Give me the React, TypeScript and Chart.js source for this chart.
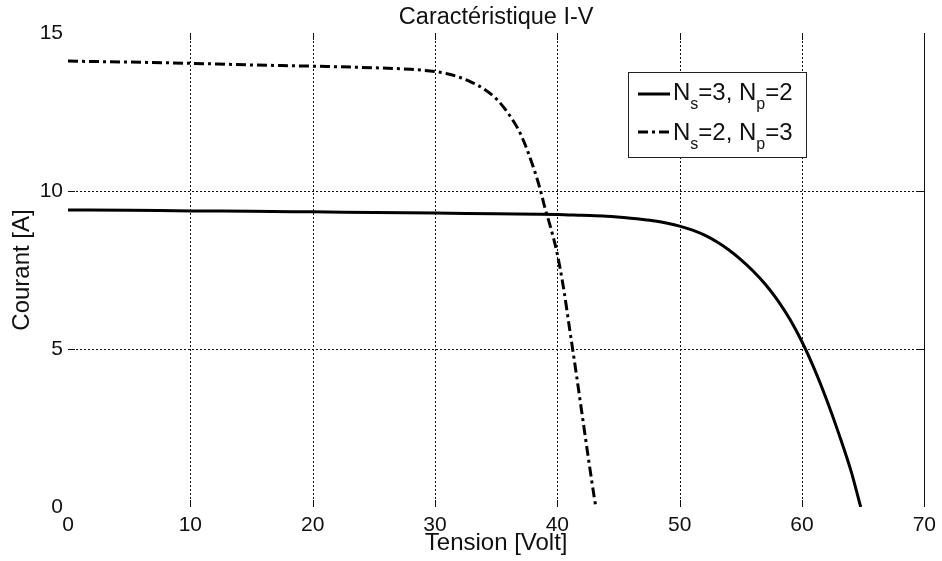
import React, { useEffect, useRef } from "react";
import { Chart, registerables } from "chart.js";

Chart.register(...registerables);

// ---- data ----
const voltsA = [0, 5, 10, 15, 20, 25, 30, 35, 40, 42, 44, 46, 47, 48, 49, 50, 51, 52, 53, 54, 55, 56, 57, 58, 59, 60, 61, 62, 63, 64, 64.8];
const currentA = [9.4, 9.39, 9.37, 9.36, 9.34, 9.32, 9.3, 9.28, 9.26, 9.23, 9.2, 9.14, 9.1, 9.05, 8.98, 8.89, 8.77, 8.61, 8.4, 8.14, 7.83, 7.47, 7.05, 6.55, 5.95, 5.23, 4.38, 3.41, 2.33, 1.15, 0];

const voltsB = [0, 5, 10, 15, 20, 25, 28, 30, 31, 32, 33, 34, 35, 36, 37, 38, 38.6, 39, 39.5, 40, 40.5, 41, 41.5, 42, 42.5, 43, 43.15];
const currentB = [14.11, 14.08, 14.04, 13.99, 13.95, 13.9, 13.85, 13.78, 13.71, 13.6, 13.44, 13.23, 12.92, 12.45, 11.8, 10.8, 10.05, 9.45, 8.78, 8.0, 6.95, 5.65, 4.35, 3.0, 1.65, 0.35, 0];

const legendLabels = ["N_s=3, N_p=2", "N_s=2, N_p=3"];
const titleText = "Caractéristique I-V";
const xTitle = "Tension [Volt]";
const yTitle = "Courant [A]";
const xMin = 0, xMax = 70, xStep = 10;
const yMin = 0, yMax = 15, yStep = 5;

const FONT = '"Liberation Sans", Arial, Helvetica, sans-serif';
const DASH_DOT = [10, 4, 3, 4];
const GRID_DOT = [2, 2];

function drawRich(ctx: CanvasRenderingContext2D, text: string, x: number, y: number, size: number, subSize: number) {
  let cx = x;
  let i = 0;
  while (i < text.length) {
    if (text[i] === "_" && i + 1 < text.length) {
      ctx.font = `${subSize}px ${FONT}`;
      const c = text[i + 1];
      ctx.fillText(c, cx, y + 9);
      cx += ctx.measureText(c).width;
      i += 2;
    } else {
      let j = i;
      while (j < text.length && text[j] !== "_") j++;
      const seg = text.slice(i, j);
      ctx.font = `${size}px ${FONT}`;
      ctx.fillText(seg, cx, y);
      cx += ctx.measureText(seg).width;
      i = j;
    }
  }
}

const framePlugin = {
  id: "matlabFrame",
  beforeDatasetsDraw(chart: any) {
    // dotted grid lines at the scale ticks
    const ctx: CanvasRenderingContext2D = chart.ctx;
    const { left, right, top, bottom } = chart.chartArea;
    const xs = chart.scales.x;
    const ys = chart.scales.y;
    ctx.save();
    ctx.strokeStyle = "#111";
    ctx.lineWidth = 1;
    ctx.setLineDash(GRID_DOT);
    xs.ticks.forEach((t: any) => {
      if (t.value <= xMin || t.value >= xMax) return;
      const px = Math.round(xs.getPixelForValue(t.value)) + 0.5;
      ctx.beginPath();
      ctx.moveTo(px, top);
      ctx.lineTo(px, bottom);
      ctx.stroke();
    });
    ys.ticks.forEach((t: any) => {
      if (t.value <= yMin || t.value >= yMax) return;
      const py = Math.round(ys.getPixelForValue(t.value)) + 0.5;
      ctx.beginPath();
      ctx.moveTo(left, py);
      ctx.lineTo(right, py);
      ctx.stroke();
    });
    ctx.restore();
  },
  afterDraw(chart: any) {
    const ctx: CanvasRenderingContext2D = chart.ctx;
    const { left, right, top, bottom } = chart.chartArea;
    const xs = chart.scales.x;
    const ys = chart.scales.y;
    ctx.save();
    ctx.strokeStyle = "#111";
    ctx.lineWidth = 1;
    ctx.setLineDash([]);
    // right border
    ctx.beginPath();
    ctx.moveTo(Math.round(right) + 0.5, top);
    ctx.lineTo(Math.round(right) + 0.5, bottom);
    ctx.stroke();
    // inner ticks
    const tl = 7;
    xs.ticks.forEach((t: any) => {
      if (t.value <= xMin || t.value >= xMax) return;
      const px = Math.round(xs.getPixelForValue(t.value)) + 0.5;
      ctx.beginPath();
      ctx.moveTo(px, bottom);
      ctx.lineTo(px, bottom - tl);
      ctx.moveTo(px, top);
      ctx.lineTo(px, top + tl);
      ctx.stroke();
    });
    ys.ticks.forEach((t: any) => {
      if (t.value <= yMin || t.value >= yMax) return;
      const py = Math.round(ys.getPixelForValue(t.value)) + 0.5;
      ctx.beginPath();
      ctx.moveTo(left, py);
      ctx.lineTo(left + tl, py);
      ctx.moveTo(right, py);
      ctx.lineTo(right - tl, py);
      ctx.stroke();
    });

    // legend box
    const bx = 628, by = 72, bw = 178, bh = 85;
    ctx.fillStyle = "#fff";
    ctx.fillRect(bx, by, bw, bh);
    ctx.strokeStyle = "#222";
    ctx.strokeRect(bx + 0.5, by + 0.5, bw, bh);

    const rows = [
      { label: legendLabels[0], dash: [] as number[], lineY: 94, baseY: 100 },
      { label: legendLabels[1], dash: DASH_DOT, lineY: 132, baseY: 140 },
    ];
    rows.forEach((r) => {
      ctx.strokeStyle = "#000";
      ctx.lineWidth = 3;
      ctx.setLineDash(r.dash);
      ctx.beginPath();
      ctx.moveTo(638, r.lineY);
      ctx.lineTo(670, r.lineY);
      ctx.stroke();
      ctx.setLineDash([]);
      ctx.fillStyle = "#111";
      ctx.textBaseline = "alphabetic";
      ctx.textAlign = "left";
      drawRich(ctx, r.label, 673, r.baseY, 24, 16);
    });
    ctx.restore();
  },
};

export default function App() {
  const ref = useRef<HTMLCanvasElement | null>(null);

  useEffect(() => {
    document.body.style.margin = "0";
    const canvas = ref.current;
    if (!canvas) return;
    const chart = new Chart(canvas, {
      type: "scatter",
      data: {
        datasets: [
          {
            label: legendLabels[0],
            data: voltsA.map((v, i) => ({ x: v, y: currentA[i] })),
            showLine: true,
            borderColor: "#000",
            borderWidth: 3,
            pointRadius: 0,
            cubicInterpolationMode: "monotone",
          },
          {
            label: legendLabels[1],
            data: voltsB.map((v, i) => ({ x: v, y: currentB[i] })),
            showLine: true,
            borderColor: "#000",
            borderWidth: 3,
            borderDash: DASH_DOT,
            pointRadius: 0,
            cubicInterpolationMode: "monotone",
          },
        ],
      },
      options: {
        animation: false,
        responsive: false,
        devicePixelRatio: 1,
        layout: { padding: { left: 0, right: 14, top: 0, bottom: 0 } },
        plugins: {
          legend: { display: false },
          tooltip: { enabled: false },
          title: {
            display: true,
            fullSize: false,
            text: titleText,
            color: "#111",
            font: { family: FONT, size: 23.5, weight: "normal" },
            padding: { top: 3, bottom: 1.8 },
          },
        },
        scales: {
          x: {
            type: "linear",
            min: xMin,
            max: xMax,
            ticks: { stepSize: xStep, color: "#111", font: { family: FONT, size: 21 }, padding: 6, maxRotation: 0 },
            grid: { display: false, drawTicks: false },
            border: { display: false },
            title: { display: true, text: xTitle, color: "#111", font: { family: FONT, size: 24 }, padding: { top: 0, bottom: 3 } },
            afterFit: (s: any) => { s.height = 54; },
          },
          y: {
            type: "linear",
            min: yMin,
            max: yMax,
            ticks: { stepSize: yStep, color: "#111", font: { family: FONT, size: 21 }, padding: 5 },
            grid: { display: false, drawTicks: false },
            border: { display: false },
            title: { display: true, text: yTitle, color: "#111", font: { family: FONT, size: 24 }, padding: { top: 7.5, bottom: 0 } },
            afterFit: (s: any) => { s.width = 68; },
          },
        },
      },
      plugins: [framePlugin],
    } as any);
    return () => chart.destroy();
  }, []);

  return (
    <div style={{ width: 942, height: 561, background: "#fff" }}>
      <canvas ref={ref} width={942} height={561} style={{ display: "block" }} />
    </div>
  );
}
